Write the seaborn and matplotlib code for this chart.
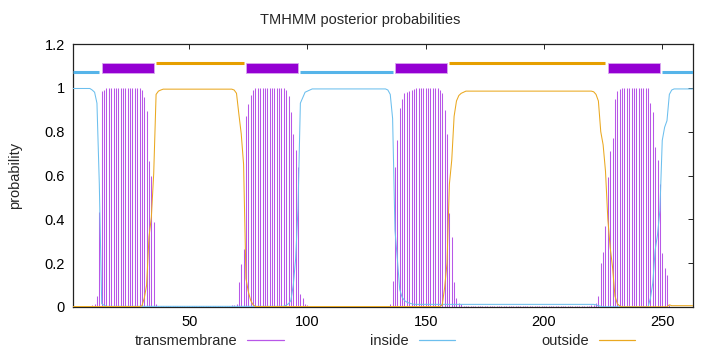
import numpy as np
import pandas as pd
import matplotlib
matplotlib.use("Agg")
import matplotlib.pyplot as plt
from matplotlib.lines import Line2D
from matplotlib.ticker import FuncFormatter
import seaborn as sns

# ---- data (per-residue posterior probabilities) ----
seq_len = 263
residues = list(range(1, seq_len + 1))

transmembrane = (
    [0.0] * 8
    + [0.01, 0.015, 0.05, 0.435, 0.985, 0.99]
    + [1.0] * 15
    + [0.99, 0.96, 0.895, 0.667, 0.60, 0.39, 0.012, 0.005]
    + [0.004] * 28
    + [0.006, 0.006, 0.008, 0.01, 0.012]
    + [0.115, 0.196, 0.263, 0.87, 0.927, 0.968, 0.99]
    + [1.0] * 13
    + [0.99, 0.965, 0.89, 0.79, 0.717, 0.638]
    + [0.06, 0.04, 0.015, 0.01]
    + [0.002] * 33
    + [0.005, 0.012, 0.12]
    + [0.64, 0.76, 0.91, 0.95, 0.975, 0.98, 0.985, 0.99, 0.995]
    + [1.0] * 10
    + [0.99, 0.975, 0.90, 0.79, 0.43, 0.32, 0.115, 0.04, 0.02, 0.012]
    + [0.004] * 53
    + [0.006, 0.008, 0.01, 0.02, 0.05, 0.20, 0.25, 0.37]
    + [0.595, 0.71, 0.77, 0.95, 0.985, 0.995]
    + [1.0] * 12
    + [0.93, 0.89, 0.73, 0.67, 0.56, 0.245, 0.18, 0.145, 0.01]
    + [0.002] * 10
)

inside = (
    [0.997] * 8
    + [0.99, 0.98, 0.93, 0.56, 0.015, 0.008]
    + [0.003] * 75
    + [0.004, 0.008, 0.015, 0.03, 0.10, 0.22, 0.45]
    + [0.93, 0.955, 0.98, 0.985, 0.99]
    + [0.995] * 32
    + [0.99, 0.97, 0.86, 0.35, 0.22, 0.08, 0.045, 0.03, 0.022, 0.018, 0.015]
    + [0.012] * 77
    + [0.01, 0.006, 0.003]
    + [0.001] * 20
    + [0.04, 0.11, 0.26, 0.33, 0.44, 0.76, 0.82, 0.85, 0.97, 0.99]
    + [0.995] * 9
)

outside = (
    [0.002] * 29
    + [0.005, 0.04, 0.10, 0.32, 0.41, 0.61, 0.97, 0.985, 0.99]
    + [0.994] * 30
    + [0.99, 0.975, 0.88, 0.79, 0.65, 0.13, 0.07, 0.03, 0.01]
    + [0.002] * 79
    + [0.01, 0.09, 0.2, 0.56, 0.67, 0.87, 0.94, 0.965, 0.975, 0.98]
    + [0.985] * 54
    + [0.982, 0.97, 0.94, 0.80, 0.74, 0.62, 0.40, 0.27, 0.18, 0.05, 0.015, 0.005]
    + [0.001] * 20
    + [0.01]
    + [0.006] * 10
)

# predicted topology segments (start, end)
inside_segments = [(1, 12), (97, 136), (250, 263)]
tm_segments = [(13, 35), (74, 96), (137, 159), (227, 249)]
outside_segments = [(36, 73), (160, 226)]

x_ticks = [50, 100, 150, 200, 250]
y_ticks = [0, 0.2, 0.4, 0.6, 0.8, 1.0, 1.2]
title_text = "TMHMM posterior probabilities"
y_label = "probability"
legend_labels = ["transmembrane", "inside", "outside"]

# ---- style ----
sns.set_theme(style="white")
plt.rcParams["font.family"] = ["Liberation Sans", "DejaVu Sans"]

C_TM = "#9400D3"
C_TM_IMP = "#b857e8"
C_IN = "#6cbfee"
C_OUT = "#eaa820"

df = pd.DataFrame({"residue": residues, "tm": transmembrane,
                   "inside": inside, "outside": outside})

fig = plt.figure(figsize=(7.2, 3.52), dpi=100)
ax = fig.add_axes([73.3 / 720, 1 - 307 / 352, (693 - 73.3) / 720, (307 - 44) / 352])

# impulses for transmembrane probability
ax.vlines(df["residue"], 0, df["tm"], color=C_TM_IMP, lw=0.75, zorder=2)
sns.lineplot(data=df, x="residue", y="inside", ax=ax, color=C_IN, lw=0.75,
             zorder=3, legend=False)
sns.lineplot(data=df, x="residue", y="outside", ax=ax, color=C_OUT, lw=0.75,
             zorder=4, legend=False)

# topology bars on top
for s, e in inside_segments:
    ax.hlines(1.072, s, e, color="#56B4E9", lw=2.2, zorder=5)
for s, e in outside_segments:
    ax.hlines(1.113, s, e, color="#E69F00", lw=2.2, zorder=5)
for s, e in tm_segments:
    ax.barh(1.0915, e - s, left=s, height=0.047, color=C_TM,
            edgecolor="#d9a6f0", lw=0.6, zorder=5)

ax.set_xlim(1, seq_len)
ax.set_ylim(0, 1.2)
ax.set_xticks(x_ticks)
ax.set_yticks(y_ticks)
ax.yaxis.set_major_formatter(FuncFormatter(lambda v, p: f"{v:g}"))
ax.tick_params(direction="in", top=True, right=True, length=3.5, width=0.6,
               labelsize=10.5, colors="black", pad=6)
ax.tick_params(axis="x", labeltop=False)
ax.tick_params(axis="y", labelright=False)
for sp in ax.spines.values():
    sp.set_color("#222222")
    sp.set_linewidth(0.9)
ax.set_xlabel("")
ax.set_ylabel(y_label, fontsize=10.5, labelpad=16)
fig.text(360 / 720, 1 - 20 / 352, title_text, ha="center", va="center",
         fontsize=10.5)

handles = [Line2D([0], [0], color=C_TM_IMP, lw=0.9),
           Line2D([0], [0], color=C_IN, lw=0.9),
           Line2D([0], [0], color=C_OUT, lw=0.9)]
leg = fig.legend(handles, legend_labels, ncol=3, loc="center",
                 bbox_to_anchor=(385 / 720, 1 - 341 / 352), frameon=False,
                 markerfirst=False, fontsize=10.5, handlelength=2.5,
                 handletextpad=0.7, columnspacing=5.9, borderaxespad=0)

fig.savefig("out.png", dpi=100, facecolor="white")
